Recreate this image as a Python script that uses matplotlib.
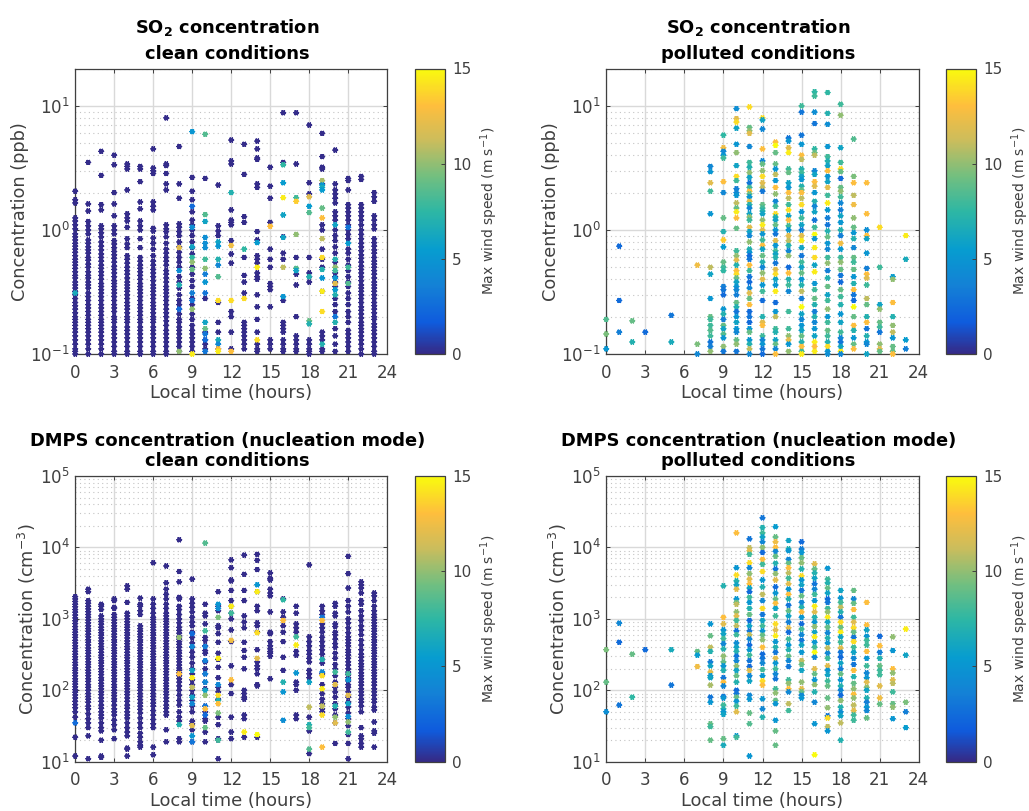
import matplotlib
matplotlib.use("Agg")
import matplotlib.pyplot as plt
from matplotlib.colors import LinearSegmentedColormap, Normalize
from matplotlib.ticker import LogLocator, NullFormatter

W, H = 1029, 811
GREY = "#404040"

hours = list(range(24))
hour_ticks = [0, 3, 6, 9, 12, 15, 18, 21, 24]
wind_ticks = [0, 5, 10, 15]
calm_wind = 0.1

# SO2, clean: nearly all points are calm, one list per hour
so2_clean_calm = [
    [2.05, 1.75, 1.65, 1.25, 1.18, 1.1, 1.02, .93, .88, .83, .78, .74, .7, .66, .62, .58, .55, .52, .49, .46, .43, .41, .38, .36, .34, .32, .3, .28, .26, .245, .23, .215, .2, .19, .18, .17, .16, .15, .14, .13, .12, .11, .105, .1],
    [3.5, 1.62, 1.42, 1.17, 1.08, 1.0, .93, .83, .78, .73, .69, .65, .6, .57, .53, .5, .46, .43, .41, .38, .36, .34, .31, .29, .27, .25, .235, .22, .205, .19, .18, .17, .16, .15, .14, .13, .12, .11, .1],
    [4.3, 2.75, 1.6, 1.45, 1.08, 1.02, .95, .88, .8, .74, .69, .64, .6, .56, .52, .49, .46, .43, .4, .37, .35, .33, .31, .29, .27, .25, .235, .22, .205, .19, .18, .17, .16, .15, .14, .13, .12, .11, .1],
    [4.0, 3.35, 2.0, 1.62, 1.3, 1.08, 1.0, .93, .82, .77, .72, .67, .63, .59, .55, .51, .48, .45, .42, .39, .37, .35, .33, .31, .29, .27, .25, .235, .22, .2, .19, .18, .165, .155, .145, .135, .125, .115, .105, .1],
    [3.4, 3.25, 3.1, 2.1, 1.35, 1.25, 1.18, 1.05, .85, .77, .72, .62, .58, .54, .5, .47, .44, .41, .38, .36, .34, .32, .3, .28, .26, .245, .23, .215, .2, .19, .18, .165, .155, .145, .135, .125, .115, .105, .1],
    [3.25, 3.1, 2.45, 1.68, 1.48, 1.18, 1.08, 1.0, .85, .72, .6, .56, .52, .49, .46, .43, .4, .37, .35, .33, .31, .29, .27, .25, .235, .22, .205, .19, .18, .165, .155, .145, .135, .125, .115, .105, .1],
    [4.5, 3.15, 3.0, 2.85, 1.68, 1.55, 1.45, 1.03, .98, .86, .78, .7, .62, .56, .52, .48, .45, .42, .39, .36, .34, .32, .3, .28, .26, .245, .23, .215, .2, .19, .18, .165, .155, .145, .135, .125, .115, .105, .1],
    [8.0, 3.4, 3.3, 2.85, 2.35, 2.1, 1.1, 1.02, .97, .88, .78, .7, .65, .6, .56, .52, .47, .44, .41, .38, .35, .33, .31, .29, .27, .25, .23, .215, .2, .185, .17, .155, .145, .135, .125, .115, .105, .1],
    [4.7, 2.35, 1.8, 1.12, 1.05, .97, .9, .8, .73, .66, .6, .55, .5, .42, .38, .34, .3, .27, .25, .23, .21, .19, .18, .165, .155, .145, .135, .125, .115, .105],
    [2.65, 2.05, 1.75, 1.4, 1.2, 1.1, 1.0, .9, .8, .72, .64, .5, .44, .39, .35, .28, .25, .21, .19, .17, .155, .145, .135, .125, .115, .105],
    [2.6, .28, .15, .13, .12, .11],
    [2.3, 1.08, .98, .9, .26, .18, .15, .11],
    [5.3, 3.6, 3.4, 1.45, 1.2, 1.15, 1.1, .82, .64, .54, .22, .2, .15, .11],
    [4.9, 2.8, 1.28, 1.15, .6, .43, .38, .31, .18, .17, .16, .15, .14, .13, .12, .11],
    [5.2, 4.5, 3.8, 3.7, 2.35, 2.2, .97, .83, .62, .58, .54, .45, .42, .4, .3, .24, .19, .15, .12, .11, .105],
    [3.2, 2.25, 1.8, 1.15, .7, .58, .5, .37, .35, .33, .24, .13, .12, .11],
    [8.8, 3.5, .88, .65, .58, .27, .18, .17, .16, .15, .13, .12, .11, .105],
    [8.8, 3.4, .6, .44, .36, .2, .14, .13, .12, .11, .105],
    [7.0, 2.4, 1.95, .6, .45, .42, .38, .13, .12, .11, .105, .1],
    [6.0, 3.9, 3.2, 3.1, 2.35, 1.1, 1.0, .7, .58, .5, .32, .15, .14, .13, .11, .105],
    [4.4, 2.35, 2.1, 1.95, 1.8, 1.65, 1.4, 1.3, 1.2, 1.0, .9, .82, .73, .65, .55, .45, .42, .38, .35, .28, .25, .22, .16, .14, .12, .105],
    [2.6, 2.5, 2.1, 1.6, 1.5, 1.4, 1.3, 1.2, 1.1, 1.0, .92, .85, .7, .65, .58, .52, .47, .42, .38, .35, .31, .28, .25, .22, .2, .18, .155, .145, .135, .125, .115, .105],
    [2.7, 2.55, 1.6, 1.5, 1.4, 1.3, 1.2, 1.1, 1.0, .92, .85, .78, .73, .68, .63, .59, .55, .51, .48, .45, .42, .39, .36, .34, .32, .3, .28, .26, .24, .225, .21, .195, .18, .17, .16, .15, .14, .13, .12, .11, .1],
    [2.0, 1.85, 1.7, 1.3, 1.2, 1.1, 1.02, .85, .79, .74, .69, .65, .6, .56, .53, .5, .47, .44, .41, .38, .36, .34, .32, .3, .28, .26, .245, .23, .215, .2, .19, .175, .165, .155, .145, .135, .125, .115, .105, .1],
]
# windy points on the clean SO2 panel: hour, conc, wind
so2_clean_windy = [
    (0, .31, 6.5), (8, .72, 12), (8, .47, 4.5), (8, .36, 7), (8, .23, 2.5), (8, .105, 10),
    (9, 6.2, 5), (9, 1.55, 2.5), (9, 1.05, 4.5), (9, .73, 6), (9, .6, 7.5), (9, .55, 10), (9, .48, 9), (9, .31, 3.5), (9, .27, 3), (9, .23, 10), (9, .1, 14.5),
    (10, 5.9, 8.5), (10, 1.33, 8.5), (10, 1.17, 6), (10, .87, 4.5), (10, .78, 4.5), (10, .72, 4.5), (10, .58, 8), (10, .49, 10), (10, .44, 3.5), (10, .38, 5), (10, .31, 3), (10, .18, 6), (10, .16, 9), (10, .145, 3), (10, .13, 2.5), (10, .105, 3),
    (11, .8, 6), (11, .74, 5), (11, .58, 7), (11, .52, 4), (11, .42, 8.5), (11, .27, 14), (11, .13, 6.5), (11, .12, 4), (11, .11, 13), (11, .105, 14.5),
    (12, 2.0, 7), (12, .75, 12.5), (12, .27, 14), (12, .105, 13), (13, .7, 7.5), (13, .28, 14), (14, .79, 5.5), (14, .5, 14.5), (14, .13, 14), (15, 1.07, 13),
    (16, 3.35, 7.5), (16, 2.4, 5.5), (16, 1.82, 14.5), (16, 1.32, 6), (16, .87, 6), (16, .5, 11), (16, .29, 5),
    (17, 1.82, 8), (17, 1.7, 13.5), (17, .92, 10), (17, .49, 8.5), (17, .47, 6),
    (18, 1.85, 12), (18, 1.55, 5.5), (18, 1.38, 8.5), (18, .42, 7), (18, .185, 9), (18, .175, 7),
    (19, 2.5, 10.5), (19, 2.3, 5), (19, 2.2, 6.5), (19, 2.1, 5.5), (19, 1.5, 9), (19, 1.25, 13), (19, .85, 11), (19, .6, 14), (19, .48, 7), (19, .41, 5), (19, .32, 14.5), (19, .22, 14), (19, .12, 7),
    (20, 1.1, 6), (20, .58, 7), (20, .5, 10), (20, .47, 8), (20, .41, 5), (20, .37, 12), (20, .33, 5.5), (20, .3, 7), (20, .2, 3), (20, .18, 7), (21, 1.05, 3), (21, .78, 5.5), (21, .5, 8), (21, .37, 8.5),
]

# SO2, polluted: (conc, wind) pairs per hour
so2_polluted = [
    [(.19, 8.5), (.145, 9.5), (.11, 5)],
    [(.74, 2.5), (.27, 2.5), (.15, 3.5)],
    [(.185, 9), (.125, 7)],
    [(.15, 2.5)],
    [],
    [(.205, 3), (.125, 6.5)],
    [],
    [(.52, 12.5), (.12, 9.5), (.1, 4)],
    [(3.25, 4), (2.95, 5), (2.4, 12), (2.05, 8), (1.35, 5), (.5, 11), (.44, 6), (.28, 5), (.2, 9), (.19, 8), (.17, 8), (.155, 8.5), (.14, 8), (.125, 3), (.115, 3.5), (.105, 10)],
    [(5.8, 7.5), (4.6, 12.5), (4.3, 4), (4, 5), (3.8, 8), (2.45, 13), (2, 4), (1.25, 9), (.97, 7), (.83, 13.5), (.73, 5.5), (.55, 9), (.5, 8), (.47, 7.5), (.35, 3.5), (.33, 3), (.3, 2.5), (.23, 5), (.21, 7), (.19, 3.5), (.17, 9), (.16, 6), (.145, 8.5), (.135, 5), (.115, 10), (.105, 3)],
    [(9.5, 4.5), (7.9, 12), (7.4, 14), (6.6, 6), (4.9, 5), (4.2, 10), (3.3, 6), (2.7, 14), (2.5, 8), (2.15, 3.5), (2, 4), (1.9, 5), (1.65, 11), (1.5, 9), (1.4, 14.5), (1.25, 13), (1.03, 9), (.68, 8), (.62, 10), (.57, 12), (.52, 7), (.47, 13), (.44, 14), (.41, 9), (.38, 6), (.35, 5), (.33, 4), (.3, 3.5), (.26, 9), (.24, 7), (.22, 3), (.2, 5), (.18, 6), (.16, 5), (.15, 4), (.13, 9), (.12, 10), (.105, 3)],
    [(9.8, 14), (6.7, 9), (6.3, 10), (6, 12), (4.7, 4), (3.5, 8), (3.2, 7), (2.9, 10), (2.65, 6), (2.4, 3), (2.2, 8), (2.05, 13), (1.95, 9), (1.85, 5), (1.7, 12), (1.6, 7), (1.5, 4), (1.35, 6), (1.27, 10), (1.2, 8), (1.05, 12), (.97, 6), (.9, 4), (.8, 10), (.7, 7), (.66, 5), (.62, 2.5), (.58, 3), (.52, 13), (.47, 8), (.42, 3), (.38, 2.5), (.34, 4), (.31, 12), (.28, 9), (.25, 13), (.22, 2.5), (.2, 3), (.18, 2.5), (.16, 5), (.15, 9), (.13, 5), (.12, 7), (.11, 11), (.1, 4)],
    [(8, 14), (7.7, 6), (6.5, 4), (4.5, 13), (3.6, 4), (3.4, 9), (3, 10), (2.7, 14), (2.4, 12), (2.2, 11), (2.05, 3), (1.6, 9), (1.5, 8), (1.42, 7), (1.35, 6), (1.2, 10), (1.1, 14.5), (1, 12), (.93, 5), (.83, 8), (.75, 13), (.7, 6), (.62, 9), (.55, 7), (.5, 4), (.45, 10), (.4, 12), (.36, 5), (.32, 8), (.27, 2.5), (.2, 7), (.18, 12), (.17, 13), (.14, 8), (.13, 4), (.12, 5), (.11, 3), (.1, 2.5)],
    [(5.1, 13), (4.8, 15), (4.2, 9), (3.4, 9), (3.1, 5), (2.8, 11), (2.5, 5), (2.2, 13), (1.95, 10), (1.7, 4), (1.55, 8), (1.35, 14), (1.27, 7), (1.2, 6), (1.1, 9), (1, 5), (.93, 3), (.82, 12), (.75, 5), (.68, 8), (.64, 6), (.6, 7), (.54, 3), (.48, 12), (.44, 14), (.4, 6), (.36, 5), (.32, 14.5), (.26, 2.5), (.22, 5), (.2, 11), (.16, 8), (.15, 7), (.13, 6), (.12, 9), (.11, 4), (.1, 13)],
    [(5.5, 3), (5.2, 5), (4.6, 12), (4.2, 14.5), (3.1, 8), (2.9, 9), (2.4, 6), (2.2, 5), (2, 13), (1.8, 11), (1.6, 8), (1.45, 14), (1.3, 6), (1.2, 13), (1.08, 8), (1, 5), (.9, 12), (.82, 11), (.75, 7), (.68, 4), (.62, 10), (.5, 2.5), (.45, 13), (.4, 7), (.36, 8), (.32, 4), (.22, 8), (.16, 8), (.14, 10), (.13, 12), (.12, 5), (.105, 10)],
    [(10, 8), (8.9, 3), (5.8, 3), (4.9, 5), (4, 13), (3.7, 11), (3.1, 7), (2.9, 8), (2.7, 6), (2.55, 5), (2.25, 7), (2.1, 9), (2, 13), (1.8, 11), (1.6, 14), (1.4, 5), (1.25, 8), (1.1, 6), (1, 3.5), (.9, 12), (.82, 14.5), (.72, 6), (.62, 3), (.55, 8), (.5, 6), (.45, 9), (.4, 5), (.36, 7), (.32, 11), (.28, 3.5), (.24, 15), (.21, 6), (.19, 4), (.17, 5), (.155, 6), (.14, 9), (.125, 7), (.115, 13), (.105, 8), (.1, 14.5)],
    [(13, 7.5), (12, 8), (8.9, 4.5), (7.2, 3), (4.5, 7.5), (4.2, 9), (4, 11), (3, 4), (2.8, 6), (2.45, 13), (2.25, 12), (2, 5), (1.7, 7), (1.55, 4), (1.4, 6), (1.2, 3), (1.05, 8), (.92, 15), (.85, 5), (.72, 14.5), (.6, 14), (.52, 6), (.46, 14.5), (.37, 5), (.33, 8), (.28, 9), (.25, 7), (.22, 3.5), (.2, 7), (.18, 4), (.16, 5), (.14, 6), (.125, 14.5), (.115, 13), (.105, 14.5)],
    [(12.8, 7.5), (8.7, 7), (7.1, 4.5), (4.7, 5), (3.9, 8), (3.6, 7), (3.3, 6), (3, 13), (2.7, 5), (2.45, 6), (2.2, 12), (1.9, 8), (1.65, 14.5), (1.45, 5), (1.25, 3.5), (1.1, 3), (.98, 7), (.88, 9), (.78, 5), (.7, 4), (.6, 8), (.54, 10), (.47, 3.5), (.41, 7), (.35, 9), (.3, 6), (.27, 8), (.23, 10), (.2, 5), (.18, 8), (.155, 9), (.14, 8), (.125, 7), (.115, 14), (.105, 5), (.1, 4.5)],
    [(10.3, 8), (8.4, 10), (4.6, 6), (3.5, 8), (3.1, 14), (2.95, 9), (2.6, 2.5), (2.2, 9), (2.05, 10), (1.85, 8), (1.65, 4), (1.45, 3.5), (1.3, 6), (1.15, 5), (1, 7), (.9, 3.5), (.78, 12.5), (.7, 5), (.6, 8), (.55, 10), (.48, 9), (.43, 3), (.38, 2.5), (.33, 9), (.29, 8), (.25, 7), (.21, 5), (.18, 6), (.15, 8), (.135, 4), (.125, 3), (.115, 6), (.105, 14.5), (.1, 4)],
    [(5.4, 8.5), (2.7, 9.5), (2.4, 13), (1.9, 11), (1.6, 12.5), (1.25, 10), (1.05, 9), (.95, 5), (.85, 7), (.72, 4), (.6, 9), (.55, 8), (.48, 9), (.42, 5), (.37, 7), (.33, 13), (.3, 3), (.27, 2.5), (.24, 15), (.2, 9), (.17, 13), (.155, 7), (.135, 5), (.12, 9), (.11, 13)],
    [(2.4, 13), (1.35, 13), (1, 4.5), (.9, 13), (.85, 6), (.65, 5), (.49, 3.5), (.44, 13), (.41, 12), (.36, 8), (.28, 11), (.25, 9), (.2, 7), (.18, 13), (.16, 3), (.14, 7), (.125, 5), (.12, 4), (.1, 6)],
    [(1.05, 14), (.5, 8), (.25, 6), (.23, 10), (.18, 9), (.165, 8), (.15, 3), (.12, 10), (.11, 12), (.105, 9)],
    [(.42, 5.5), (.4, 10), (.26, 13), (.2, 7), (.17, 10), (.15, 11), (.135, 5), (.115, 9), (.105, 9), (.1, 13)],
    [(.9, 14.5), (.58, 6.5), (.13, 5.5), (.11, 3.5)],
]

# DMPS, clean
dmps_clean_calm = [
    [2050, 1900, 1750, 1600, 1480, 1350, 1240, 1130, 1030, 940, 860, 780, 710, 650, 600, 550, 500, 460, 420, 385, 350, 320, 295, 270, 245, 225, 205, 190, 175, 160, 145, 133, 122, 112, 102, 94, 86, 78, 70, 63, 57, 50, 42, 22, 12],
    [2600, 2400, 1800, 1650, 1500, 1380, 1260, 1150, 1050, 960, 880, 800, 730, 670, 610, 560, 510, 470, 430, 390, 360, 330, 300, 275, 250, 230, 210, 190, 175, 160, 145, 133, 120, 110, 100, 90, 82, 75, 68, 60, 55, 47, 40, 35, 30, 23, 11],
    [1600, 1500, 1350, 1100, 1000, 920, 840, 760, 700, 640, 590, 540, 490, 450, 410, 375, 340, 310, 285, 260, 240, 220, 200, 182, 166, 150, 138, 125, 115, 105, 95, 87, 78, 70, 62, 56, 50, 45, 41, 35, 30, 27, 20, 12, 11.5],
    [1900, 1800, 1450, 1400, 1150, 1050, 960, 880, 800, 730, 670, 610, 560, 510, 470, 430, 390, 360, 330, 300, 275, 250, 230, 210, 190, 175, 160, 145, 133, 120, 110, 100, 92, 84, 76, 70, 62, 55, 50, 45, 38, 33, 28, 21],
    [2900, 2600, 1700, 1200, 1100, 1000, 910, 830, 760, 700, 640, 590, 540, 490, 450, 410, 375, 340, 310, 285, 260, 240, 220, 200, 182, 166, 150, 138, 125, 115, 105, 95, 87, 78, 70, 62, 56, 50, 45, 41, 35, 30, 26, 23, 15.5, 15, 12],
    [1950, 1600, 1500, 1300, 1150, 800, 730, 670, 610, 560, 510, 470, 430, 390, 360, 330, 300, 275, 250, 230, 210, 190, 175, 160, 145, 133, 120, 110, 100, 90, 82, 74, 66, 60, 54, 48, 41, 35, 30, 25, 22, 19, 17, 16],
    [6100, 1900, 1600, 1400, 1200, 1050, 980, 900, 830, 760, 700, 640, 590, 540, 500, 460, 420, 385, 350, 320, 295, 270, 245, 225, 205, 190, 175, 160, 145, 133, 120, 110, 100, 90, 82, 74, 66, 60, 52, 45, 39, 34, 30, 16, 12.5],
    [5500, 3200, 2600, 2200, 1900, 1600, 1400, 1200, 1100, 1000, 920, 840, 770, 700, 640, 590, 540, 490, 450, 410, 375, 340, 310, 285, 260, 240, 220, 200, 182, 166, 150, 138, 125, 115, 105, 95, 87, 78, 70, 62, 56, 50, 45, 28, 19],
    [12800, 4600, 3300, 2000, 1900, 1500, 1350, 1150, 1000, 880, 760, 690, 630, 570, 520, 480, 440, 400, 360, 330, 300, 275, 250, 225, 205, 190, 175, 160, 145, 130, 115, 100, 85, 72, 62, 50, 42, 37, 21, 19],
    [3600, 1900, 1650, 1450, 1250, 1050, 900, 800, 650, 550, 460, 400, 340, 290, 240, 200, 170, 140, 120, 100, 85, 72, 60, 50, 37, 34, 28, 19],
    [1600, 1200, 1100, 850, 550, 500, 420, 360, 330, 250, 200, 170, 130, 105, 60, 50, 40, 37, 26, 19],
    [2400, 1500, 1300, 800, 750, 620, 470, 330, 270, 210, 150, 110, 95, 75, 42, 33, 21, 20, 11],
    [6700, 5200, 3500, 3400, 2500, 1800, 1500, 1200, 1000, 700, 480, 220, 120, 90, 42, 26, 21],
    [7800, 4200, 2500, 1800, 1100, 900, 750, 470, 360, 290, 200, 100, 90, 80, 75, 45, 40, 22],
    [8000, 6600, 4900, 2400, 1500, 1300, 880, 800, 650, 370, 250, 220, 200, 170, 120, 115, 22],
    [4400, 3700, 3500, 2600, 2300, 2100, 1250, 650, 620, 480, 420, 380, 350, 330, 300, 145],
    [1900, 1250, 1050, 800, 650, 480, 290, 190],
    [1500, 1200, 850, 750, 650, 350, 310, 130, 120, 100, 45, 40],
    [5700, 560, 480, 420, 360, 320, 280, 250, 190, 170, 150, 42, 27, 13],
    [1500, 1300, 1150, 850, 750, 650, 550, 480, 420, 370, 320, 270, 240, 170, 120, 90, 75, 65, 55, 50],
    [1650, 1500, 1200, 1100, 850, 780, 650, 600, 520, 450, 400, 330, 280, 230, 200, 160, 130, 110, 95, 80, 65, 55, 45, 35, 18],
    [7500, 4300, 2700, 1800, 1500, 1250, 1000, 880, 750, 640, 560, 510, 460, 420, 370, 340, 310, 280, 250, 225, 200, 180, 165, 150, 135, 120, 110, 95, 80, 68, 58, 48, 40, 32, 24, 18, 11],
    [3300, 3000, 2700, 2300, 1800, 1600, 1300, 1100, 950, 800, 700, 600, 500, 430, 370, 320, 290, 260, 235, 215, 195, 175, 160, 145, 130, 118, 105, 95, 85, 75, 68, 60, 50, 30, 23, 21, 18, 16],
    [2300, 2100, 1800, 1500, 1300, 1150, 1050, 960, 880, 800, 730, 670, 610, 560, 510, 470, 430, 390, 360, 330, 300, 275, 250, 230, 210, 190, 175, 160, 145, 130, 118, 105, 95, 85, 75, 68, 58, 53, 36, 27, 25, 16],
]
dmps_clean_windy = [
    (0, 35, 2.5), (8, 550, 10), (8, 170, 13), (8, 33, 7), (9, 620, 2.5), (9, 410, 4), (9, 190, 6), (9, 150, 14.5), (9, 110, 11), (9, 80, 6), (9, 65, 4), (9, 32, 12), (9, 23, 5), (9, 19, 3),
    (10, 11500, 8.5), (10, 680, 8), (10, 410, 3.5), (10, 260, 3.5), (10, 170, 3.5), (10, 130, 4), (10, 100, 6), (10, 85, 10), (10, 60, 3), (10, 55, 13), (10, 45, 2.5), (10, 30, 9),
    (11, 1600, 5), (11, 1400, 4.5), (11, 1050, 9.5), (11, 280, 14.5), (11, 120, 4), (11, 85, 14), (11, 72, 7), (11, 65, 13), (11, 48, 9.5), (11, 20, 8),
    (12, 1500, 14.5), (12, 1200, 8), (12, 500, 12.5), (12, 140, 13), (13, 26, 14.5), (14, 3000, 5), (14, 2400, 14.5), (14, 640, 14), (14, 280, 12), (14, 24, 15),
    (16, 1850, 7.5), (16, 950, 13), (16, 130, 7), (16, 95, 5), (16, 38, 4.5), (17, 560, 8), (17, 430, 14.5), (17, 175, 5), (18, 130, 6), (18, 58, 11), (18, 33, 7), (18, 30, 8), (18, 15, 8.5),
    (19, 1050, 3), (19, 950, 13), (19, 270, 7), (19, 180, 4), (19, 160, 14), (19, 105, 14.5), (19, 60, 11), (19, 45, 14), (19, 16, 13),
    (20, 180, 8), (20, 120, 12), (20, 60, 7), (20, 42, 10), (20, 35, 12), (21, 170, 8), (21, 140, 5), (21, 85, 12), (21, 65, 6), (21, 43, 4.5), (21, 36, 10), (21, 26, 8),
]

# DMPS, polluted
dmps_polluted = [
    [(370, 9.5), (130, 9), (50, 4.5)],
    [(870, 4), (470, 2.5), (62, 3)],
    [(320, 9), (80, 7.5)],
    [(370, 2.5)],
    [],
    [(370, 6.5), (118, 3)],
    [],
    [(350, 9), (310, 5.5), (215, 12.5)],
    [(850, 5), (580, 9), (400, 11), (350, 7), (250, 3.5), (220, 6), (180, 12), (160, 5), (150, 6), (118, 10.5), (80, 3), (68, 5), (34, 9), (31, 8), (20, 9)],
    [(2900, 7), (1050, 13), (850, 12), (700, 5), (620, 6), (530, 8), (450, 4), (380, 7), (300, 10), (250, 9), (220, 5), (190, 7), (150, 3), (130, 13), (115, 4), (82, 3), (78, 5), (62, 8), (55, 7), (50, 5), (46, 6), (21, 9), (17, 6.5)],
    [(16000, 13), (5200, 5), (4100, 14), (3400, 7), (3000, 6), (2600, 12), (1900, 5), (1700, 9), (1600, 11), (1250, 10), (1100, 12), (950, 8), (800, 11), (680, 3), (600, 8), (460, 4.5), (400, 6), (350, 7), (300, 3), (260, 4), (220, 10), (190, 6), (160, 9), (130, 7), (100, 2.5), (90, 3), (80, 9), (70, 5), (60, 8), (50, 12), (23, 5), (22, 8)],
    [(13200, 3), (9900, 11), (9000, 12), (8000, 8), (6100, 14), (5200, 4), (4300, 10), (3600, 12), (3100, 13), (2700, 6), (2400, 2.5), (2000, 8), (1700, 5), (1400, 7), (1150, 9), (950, 2.5), (800, 6), (680, 3), (600, 11), (520, 4), (430, 2.5), (370, 5), (310, 8), (260, 3), (215, 2.5), (190, 12), (160, 4), (135, 6), (85, 4), (75, 5), (48, 9), (34, 8.5), (12, 5)],
    [(26000, 3), (19000, 7), (16000, 8), (14000, 6), (12000, 4), (10000, 10), (8500, 2.5), (6800, 13), (5800, 8), (4600, 14), (3500, 5), (2800, 7), (2200, 11), (1800, 4), (1400, 14), (1150, 3), (950, 6), (800, 8), (680, 5), (590, 9), (510, 10), (400, 13), (320, 2.5), (280, 3), (240, 4), (195, 8), (160, 5), (135, 14), (118, 13), (76, 5), (55, 4), (42, 7)],
    [(19500, 5.5), (14000, 9), (12000, 12.5), (10000, 13), (8800, 4), (7500, 9), (6000, 7), (5000, 3), (4300, 10), (3500, 12), (2800, 2.5), (2300, 5), (1900, 9), (1650, 13), (1400, 6), (1100, 8), (850, 14), (700, 12), (580, 14.5), (480, 5), (400, 7), (340, 3), (280, 12), (240, 5), (200, 8), (170, 4), (145, 3), (105, 8), (92, 10), (72, 9), (65, 5), (38, 5), (27, 9), (17, 9)],
    [(12500, 6), (9500, 7), (9000, 5), (6800, 4), (6000, 9), (5200, 13), (4400, 11), (3700, 8), (3100, 12), (2600, 5), (2200, 13), (1900, 7), (1550, 3), (1300, 9), (1100, 6), (900, 3.5), (750, 12), (650, 2.5), (520, 8), (430, 5), (370, 7), (300, 9), (260, 4), (215, 3), (140, 8), (125, 10), (105, 13), (95, 4), (65, 11), (52, 8)],
    [(12000, 2.5), (9500, 3.5), (8500, 5), (7200, 9), (6100, 10), (5000, 7), (4000, 14), (3500, 5), (3000, 6), (2500, 3), (2100, 9), (1700, 4), (1450, 7), (1250, 13), (1050, 5), (850, 2.5), (720, 8), (600, 4), (500, 3), (430, 6), (340, 5), (260, 11), (230, 9), (190, 6), (130, 10), (105, 12), (95, 9), (85, 4), (78, 5)],
    [(5900, 12), (5000, 9), (4400, 7), (3700, 6), (3100, 3), (2600, 4), (2200, 8), (1800, 5), (1500, 14.5), (1250, 12), (1050, 7), (900, 5), (780, 10), (650, 6), (560, 14.5), (470, 5), (400, 8), (340, 15), (290, 4), (200, 12), (170, 9), (140, 5), (120, 10), (95, 7), (68, 4), (34, 5), (12.5, 15)],
    [(5100, 5), (3600, 8), (3200, 7), (2700, 9), (2300, 6), (1900, 2.5), (1700, 3), (1400, 8), (1250, 10), (1050, 14.5), (900, 6), (760, 9), (640, 4), (540, 7), (460, 5), (390, 11), (330, 4), (280, 8), (220, 12), (190, 5), (165, 6), (135, 8), (115, 9), (78, 9), (57, 10), (44, 3), (41, 14), (31, 11), (27, 5)],
    [(2500, 6), (1950, 5), (1700, 8), (1450, 11), (1250, 7), (1050, 3), (900, 14), (760, 9), (650, 14.5), (560, 6), (470, 8), (390, 12), (340, 3), (290, 2.5), (240, 6), (200, 3.5), (170, 9), (140, 5), (115, 7), (100, 4), (85, 2.5), (72, 10), (58, 7), (50, 4.5), (44, 6), (35, 11), (20, 7)],
    [(2500, 9), (1900, 4), (1650, 9), (1350, 13), (1050, 8), (900, 12), (750, 14), (650, 9), (550, 3), (480, 14), (400, 8), (340, 6), (280, 4), (230, 3), (190, 13), (155, 7), (125, 9), (105, 10), (88, 13), (78, 10), (62, 11), (52, 12), (45, 8), (38, 8)],
    [(1700, 13), (820, 13), (700, 6), (570, 5), (500, 8), (430, 8), (350, 13), (280, 5), (220, 8), (175, 4), (150, 5), (130, 12), (110, 10), (100, 6), (78, 7), (68, 3.5), (58, 5), (52, 4), (41, 9)],
    [(570, 2.5), (420, 13), (340, 3.5), (280, 7), (220, 9), (190, 8), (165, 8), (115, 12), (78, 12.5), (64, 9)],
    [(560, 10), (360, 5), (200, 13), (175, 10), (140, 12), (125, 11), (95, 8), (65, 9), (58, 10), (40, 5)],
    [(720, 14.5), (310, 6), (68, 9.5), (50, 3.5), (30, 5.5)],
]

parula = LinearSegmentedColormap.from_list("parula", [
    (0.0, (.2081, .1663, .5292)), (.11, (.0592, .3599, .8683)), (.238, (.0779, .5040, .8384)),
    (.365, (.0265, .6137, .8135)), (.5, (.1802, .7178, .6425)), (.62, (.4420, .7481, .5033)),
    (.75, (.8, .74, .36)), (.87, (.9966, .7453, .2394)), (1.0, (.9763, .9831, .0538)),
])
norm = Normalize(0, 15)


def px_axes(fig, left, top, right, bottom):
    return fig.add_axes([left / W, 1 - bottom / H, (right - left) / W, (bottom - top) / H])


def clean_points(calm, windy):
    x, y, c = [], [], []
    for h, vals in zip(hours, calm):
        for v in vals:
            x.append(h)
            y.append(v)
            c.append(calm_wind)
    for h, v, w in windy:
        x.append(h)
        y.append(v)
        c.append(w)
    return x, y, c


def polluted_points(pairs):
    x, y, c = [], [], []
    for h, row in zip(hours, pairs):
        for v, w in row:
            x.append(h)
            y.append(v)
            c.append(w)
    return x, y, c


def draw_panel(fig, box, cbox, points, title, ylabel, ylim, title_pad, title_spacing):
    ax = px_axes(fig, *box)
    x, y, c = points
    # asterisk marker, the thick strokes close up into a small blob
    sc = ax.scatter(x, y, c=c, cmap=parula, norm=norm, s=9, marker=(6, 2, 30), linewidths=1.2, zorder=3, clip_on=False)
    ax.set_yscale("log")
    ax.set_xlim(0, 24)
    ax.set_ylim(*ylim)
    ax.set_xticks(hour_ticks)
    ax.yaxis.set_major_locator(LogLocator(base=10, numticks=10))
    ax.yaxis.set_minor_locator(LogLocator(base=10, subs=range(2, 10), numticks=10))
    ax.yaxis.set_minor_formatter(NullFormatter())
    ax.grid(True, which="major", color="#d9d9d9", lw=1.0, zorder=0)
    ax.grid(True, which="minor", axis="y", color="#c4c4c4", lw=0.8, ls=(0, (1, 3)), zorder=0)
    ax.set_axisbelow(True)
    ax.tick_params(which="major", direction="in", length=3, width=0.7, top=True, right=True, color=GREY, labelcolor=GREY, labelsize=12, pad=7)
    ax.tick_params(axis="y", which="major", pad=4)
    ax.tick_params(which="minor", length=0)
    for s in ax.spines.values():
        s.set_color(GREY)
        s.set_linewidth(0.9)
    ax.set_xlabel("Local time (hours)", fontsize=12.9, color=GREY, labelpad=2)
    ax.set_ylabel(ylabel, fontsize=12.8, color=GREY, labelpad=1)
    ax.set_title(title, fontsize=12.9, fontweight="bold", color="black", x=0.487, pad=title_pad, linespacing=title_spacing)

    cax = px_axes(fig, *cbox)
    cb = fig.colorbar(sc, cax=cax)
    cb.set_ticks(wind_ticks)
    cb.ax.tick_params(direction="in", length=3, width=0.7, color=GREY, labelcolor=GREY, labelsize=11, pad=5)
    cb.outline.set_edgecolor(GREY)
    cb.outline.set_linewidth(0.9)
    cb.set_label(r"Max wind speed (m s$^{-1}$)", fontsize=10, color=GREY, labelpad=5)


def main():
    fig = plt.figure(figsize=(W / 100, H / 100), dpi=100)
    so2_lim = (0.1, 20)
    dmps_lim = (10, 1e5)
    so2_t = r"SO$_{\mathbf{2}}$ concentration"
    dmps_t = "DMPS concentration (nucleation mode)"
    draw_panel(fig, (75.3, 68.5, 387.3, 354), (415, 68.5, 445, 354),
               clean_points(so2_clean_calm, so2_clean_windy),
               so2_t + "\nclean conditions", "Concentration (ppb)", so2_lim, 7, 1.45)
    draw_panel(fig, (606.3, 68.5, 918.7, 354), (946.3, 68.5, 976, 354),
               polluted_points(so2_polluted),
               so2_t + "\npolluted conditions", "Concentration (ppb)", so2_lim, 7, 1.45)
    draw_panel(fig, (75.3, 476, 387.3, 761.7), (415, 476, 445, 761.7),
               clean_points(dmps_clean_calm, dmps_clean_windy),
               dmps_t + "\nclean conditions", r"Concentration (cm$^{-3}$)", dmps_lim, 7, 1.15)
    draw_panel(fig, (606.3, 476, 918.7, 761.7), (946.3, 476, 976, 761.7),
               polluted_points(dmps_polluted),
               dmps_t + "\npolluted conditions", r"Concentration (cm$^{-3}$)", dmps_lim, 7, 1.15)
    fig.savefig("out.png", dpi=100)


if __name__ == "__main__":
    main()
